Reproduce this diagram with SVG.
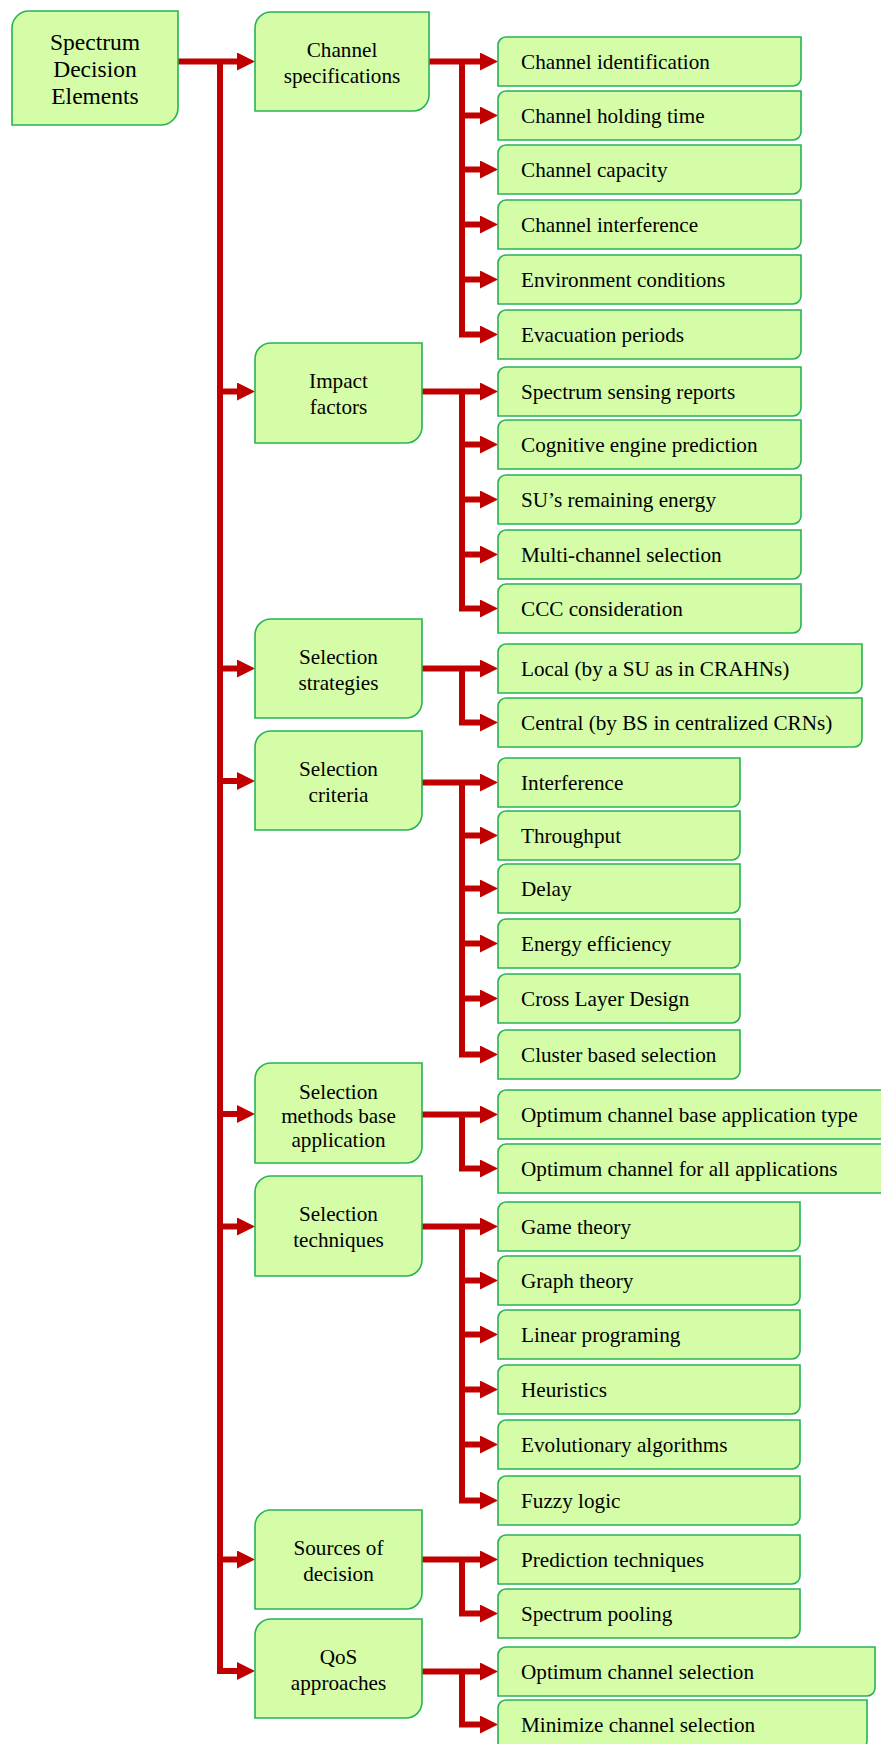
<svg xmlns="http://www.w3.org/2000/svg" width="881" height="1744" viewBox="0 0 881 1744">
<style>
.n{fill:#D5FDA8;stroke:#27B257;stroke-width:1.6}
.t{font-family:"Liberation Serif","Times New Roman",serif;fill:#000}
.r{font-size:23.5px;text-anchor:middle}
.m{font-size:21.2px;text-anchor:middle}
.l{font-size:21.2px}
.c{fill:none;stroke:#C00000;stroke-width:6;stroke-linejoin:miter}
.a{marker-end:url(#ah)}
</style>
<defs>
<marker id="ah" markerUnits="userSpaceOnUse" viewBox="0 0 18 18" markerWidth="18" markerHeight="18" refX="6" refY="9" orient="auto">
<polygon points="0,0 18,9 0,18" fill="#C00000"/>
</marker>
</defs>
<rect width="881" height="1744" fill="#fff"/>
<g id="connectors">
<path class="c a" d="M178 61.5 H243"/>
<path class="c a" d="M220 61.5 V1671 H243"/>
<path class="c a" d="M220 391.5 H243"/>
<path class="c a" d="M220 668.5 H243"/>
<path class="c a" d="M220 781 H243"/>
<path class="c a" d="M220 1114 H243"/>
<path class="c a" d="M220 1226.5 H243"/>
<path class="c a" d="M220 1559.5 H243"/>
<path class="c a" d="M429 61.5 H486"/>
<path class="c a" d="M462 61.5 V334.5 H486"/>
<path class="c a" d="M462 115.5 H486"/>
<path class="c a" d="M462 169.5 H486"/>
<path class="c a" d="M462 224.5 H486"/>
<path class="c a" d="M462 279.5 H486"/>
<path class="c a" d="M422 391.5 H486"/>
<path class="c a" d="M462 391.5 V608.5 H486"/>
<path class="c a" d="M462 444.5 H486"/>
<path class="c a" d="M462 499.5 H486"/>
<path class="c a" d="M462 554.5 H486"/>
<path class="c a" d="M422 668.5 H486"/>
<path class="c a" d="M462 668.5 V722.5 H486"/>
<path class="c a" d="M422 782.5 H486"/>
<path class="c a" d="M462 782.5 V1054.5 H486"/>
<path class="c a" d="M462 835.5 H486"/>
<path class="c a" d="M462 888.5 H486"/>
<path class="c a" d="M462 943.5 H486"/>
<path class="c a" d="M462 998.5 H486"/>
<path class="c a" d="M422 1114.5 H486"/>
<path class="c a" d="M462 1114.5 V1168.5 H486"/>
<path class="c a" d="M422 1226.5 H486"/>
<path class="c a" d="M462 1226.5 V1500.5 H486"/>
<path class="c a" d="M462 1280.5 H486"/>
<path class="c a" d="M462 1334.5 H486"/>
<path class="c a" d="M462 1389.5 H486"/>
<path class="c a" d="M462 1444.5 H486"/>
<path class="c a" d="M422 1559.5 H486"/>
<path class="c a" d="M462 1559.5 V1613.5 H486"/>
<path class="c a" d="M422 1671.5 H486"/>
<path class="c a" d="M462 1671.5 V1724.5 H486"/>
</g>
<g id="root">
<path class="n" d="M29 11 H178 V108 A17 17 0 0 1 161 125 H12 V28 A17 17 0 0 1 29 11 Z"/>
<text class="t r" x="95" y="50">Spectrum</text>
<text class="t r" x="95" y="77">Decision</text>
<text class="t r" x="95" y="104">Elements</text>
</g>
<g id="channel-specifications">
<path class="n" d="M271 12 H429 V95 A16 16 0 0 1 413 111 H255 V28 A16 16 0 0 1 271 12 Z"/>
<text class="t m" x="342" y="56.5">Channel</text>
<text class="t m" x="342" y="82.5">specifications</text>
</g>
<g id="impact-factors">
<path class="n" d="M271 343 H422 V427 A16 16 0 0 1 406 443 H255 V359 A16 16 0 0 1 271 343 Z"/>
<text class="t m" x="338.5" y="388">Impact</text>
<text class="t m" x="338.5" y="414">factors</text>
</g>
<g id="selection-strategies">
<path class="n" d="M271 619 H422 V702 A16 16 0 0 1 406 718 H255 V635 A16 16 0 0 1 271 619 Z"/>
<text class="t m" x="338.5" y="663.5">Selection</text>
<text class="t m" x="338.5" y="689.5">strategies</text>
</g>
<g id="selection-criteria">
<path class="n" d="M271 731 H422 V814 A16 16 0 0 1 406 830 H255 V747 A16 16 0 0 1 271 731 Z"/>
<text class="t m" x="338.5" y="775.5">Selection</text>
<text class="t m" x="338.5" y="801.5">criteria</text>
</g>
<g id="selection-methods">
<path class="n" d="M271 1063 H422 V1147 A16 16 0 0 1 406 1163 H255 V1079 A16 16 0 0 1 271 1063 Z"/>
<text class="t m" x="338.5" y="1099">Selection</text>
<text class="t m" x="338.5" y="1123">methods base</text>
<text class="t m" x="338.5" y="1147">application</text>
</g>
<g id="selection-techniques">
<path class="n" d="M271 1176 H422 V1260 A16 16 0 0 1 406 1276 H255 V1192 A16 16 0 0 1 271 1176 Z"/>
<text class="t m" x="338.5" y="1221">Selection</text>
<text class="t m" x="338.5" y="1247">techniques</text>
</g>
<g id="sources-of-decision">
<path class="n" d="M271 1510 H422 V1593 A16 16 0 0 1 406 1609 H255 V1526 A16 16 0 0 1 271 1510 Z"/>
<text class="t m" x="338.5" y="1554.5">Sources of</text>
<text class="t m" x="338.5" y="1580.5">decision</text>
</g>
<g id="qos-approaches">
<path class="n" d="M271 1619 H422 V1702 A16 16 0 0 1 406 1718 H255 V1635 A16 16 0 0 1 271 1619 Z"/>
<text class="t m" x="338.5" y="1663.5">QoS</text>
<text class="t m" x="338.5" y="1689.5">approaches</text>
</g>
<g id="leaf-channel-identification"><path class="n" d="M506 37 H801 V78 A8 8 0 0 1 793 86 H498 V45 A8 8 0 0 1 506 37 Z"/><text class="t l" x="521" y="68.5">Channel identification</text></g>
<g id="leaf-channel-holding-time"><path class="n" d="M506 91 H801 V132 A8 8 0 0 1 793 140 H498 V99 A8 8 0 0 1 506 91 Z"/><text class="t l" x="521" y="122.5">Channel holding time</text></g>
<g id="leaf-channel-capacity"><path class="n" d="M506 145 H801 V186 A8 8 0 0 1 793 194 H498 V153 A8 8 0 0 1 506 145 Z"/><text class="t l" x="521" y="176.5">Channel capacity</text></g>
<g id="leaf-channel-interference"><path class="n" d="M506 200 H801 V241 A8 8 0 0 1 793 249 H498 V208 A8 8 0 0 1 506 200 Z"/><text class="t l" x="521" y="231.5">Channel interference</text></g>
<g id="leaf-environment-conditions"><path class="n" d="M506 255 H801 V296 A8 8 0 0 1 793 304 H498 V263 A8 8 0 0 1 506 255 Z"/><text class="t l" x="521" y="286.5">Environment conditions</text></g>
<g id="leaf-evacuation-periods"><path class="n" d="M506 310 H801 V351 A8 8 0 0 1 793 359 H498 V318 A8 8 0 0 1 506 310 Z"/><text class="t l" x="521" y="341.5">Evacuation periods</text></g>
<g id="leaf-spectrum-sensing-reports"><path class="n" d="M506 367 H801 V408 A8 8 0 0 1 793 416 H498 V375 A8 8 0 0 1 506 367 Z"/><text class="t l" x="521" y="398.5">Spectrum sensing reports</text></g>
<g id="leaf-cognitive-engine-prediction"><path class="n" d="M506 420 H801 V461 A8 8 0 0 1 793 469 H498 V428 A8 8 0 0 1 506 420 Z"/><text class="t l" x="521" y="451.5">Cognitive engine prediction</text></g>
<g id="leaf-su-remaining-energy"><path class="n" d="M506 475 H801 V516 A8 8 0 0 1 793 524 H498 V483 A8 8 0 0 1 506 475 Z"/><text class="t l" x="521" y="506.5">SU’s remaining energy</text></g>
<g id="leaf-multi-channel-selection"><path class="n" d="M506 530 H801 V571 A8 8 0 0 1 793 579 H498 V538 A8 8 0 0 1 506 530 Z"/><text class="t l" x="521" y="561.5">Multi-channel selection</text></g>
<g id="leaf-ccc-consideration"><path class="n" d="M506 584 H801 V625 A8 8 0 0 1 793 633 H498 V592 A8 8 0 0 1 506 584 Z"/><text class="t l" x="521" y="615.5">CCC consideration</text></g>
<g id="leaf-local"><path class="n" d="M506 644 H862 V685 A8 8 0 0 1 854 693 H498 V652 A8 8 0 0 1 506 644 Z"/><text class="t l" x="521" y="675.5">Local (by a SU as in CRAHNs)</text></g>
<g id="leaf-central"><path class="n" d="M506 698 H862 V739 A8 8 0 0 1 854 747 H498 V706 A8 8 0 0 1 506 698 Z"/><text class="t l" x="521" y="729.5">Central (by BS in centralized CRNs)</text></g>
<g id="leaf-interference"><path class="n" d="M506 758 H740 V799 A8 8 0 0 1 732 807 H498 V766 A8 8 0 0 1 506 758 Z"/><text class="t l" x="521" y="789.5">Interference</text></g>
<g id="leaf-throughput"><path class="n" d="M506 811 H740 V852 A8 8 0 0 1 732 860 H498 V819 A8 8 0 0 1 506 811 Z"/><text class="t l" x="521" y="842.5">Throughput</text></g>
<g id="leaf-delay"><path class="n" d="M506 864 H740 V905 A8 8 0 0 1 732 913 H498 V872 A8 8 0 0 1 506 864 Z"/><text class="t l" x="521" y="895.5">Delay</text></g>
<g id="leaf-energy-efficiency"><path class="n" d="M506 919 H740 V960 A8 8 0 0 1 732 968 H498 V927 A8 8 0 0 1 506 919 Z"/><text class="t l" x="521" y="950.5">Energy efficiency</text></g>
<g id="leaf-cross-layer-design"><path class="n" d="M506 974 H740 V1015 A8 8 0 0 1 732 1023 H498 V982 A8 8 0 0 1 506 974 Z"/><text class="t l" x="521" y="1005.5">Cross Layer Design</text></g>
<g id="leaf-cluster-based-selection"><path class="n" d="M506 1030 H740 V1071 A8 8 0 0 1 732 1079 H498 V1038 A8 8 0 0 1 506 1030 Z"/><text class="t l" x="521" y="1061.5">Cluster based selection</text></g>
<g id="leaf-optimum-base-app"><path class="n" d="M506 1090 H890 V1131 A8 8 0 0 1 882 1139 H498 V1098 A8 8 0 0 1 506 1090 Z"/><text class="t l" x="521" y="1121.5">Optimum channel base application type</text></g>
<g id="leaf-optimum-all-apps"><path class="n" d="M506 1144 H890 V1185 A8 8 0 0 1 882 1193 H498 V1152 A8 8 0 0 1 506 1144 Z"/><text class="t l" x="521" y="1175.5">Optimum channel for all applications</text></g>
<g id="leaf-game-theory"><path class="n" d="M506 1202 H800 V1243 A8 8 0 0 1 792 1251 H498 V1210 A8 8 0 0 1 506 1202 Z"/><text class="t l" x="521" y="1233.5">Game theory</text></g>
<g id="leaf-graph-theory"><path class="n" d="M506 1256 H800 V1297 A8 8 0 0 1 792 1305 H498 V1264 A8 8 0 0 1 506 1256 Z"/><text class="t l" x="521" y="1287.5">Graph theory</text></g>
<g id="leaf-linear-programing"><path class="n" d="M506 1310 H800 V1351 A8 8 0 0 1 792 1359 H498 V1318 A8 8 0 0 1 506 1310 Z"/><text class="t l" x="521" y="1341.5">Linear programing</text></g>
<g id="leaf-heuristics"><path class="n" d="M506 1365 H800 V1406 A8 8 0 0 1 792 1414 H498 V1373 A8 8 0 0 1 506 1365 Z"/><text class="t l" x="521" y="1396.5">Heuristics</text></g>
<g id="leaf-evolutionary-algorithms"><path class="n" d="M506 1420 H800 V1461 A8 8 0 0 1 792 1469 H498 V1428 A8 8 0 0 1 506 1420 Z"/><text class="t l" x="521" y="1451.5">Evolutionary algorithms</text></g>
<g id="leaf-fuzzy-logic"><path class="n" d="M506 1476 H800 V1517 A8 8 0 0 1 792 1525 H498 V1484 A8 8 0 0 1 506 1476 Z"/><text class="t l" x="521" y="1507.5">Fuzzy logic</text></g>
<g id="leaf-prediction-techniques"><path class="n" d="M506 1535 H800 V1576 A8 8 0 0 1 792 1584 H498 V1543 A8 8 0 0 1 506 1535 Z"/><text class="t l" x="521" y="1566.5">Prediction techniques</text></g>
<g id="leaf-spectrum-pooling"><path class="n" d="M506 1589 H800 V1630 A8 8 0 0 1 792 1638 H498 V1597 A8 8 0 0 1 506 1589 Z"/><text class="t l" x="521" y="1620.5">Spectrum pooling</text></g>
<g id="leaf-optimum-channel-selection"><path class="n" d="M506 1647 H875 V1688 A8 8 0 0 1 867 1696 H498 V1655 A8 8 0 0 1 506 1647 Z"/><text class="t l" x="521" y="1678.5">Optimum channel selection</text></g>
<g id="leaf-minimize-channel-selection"><path class="n" d="M506 1700 H867 V1741 A8 8 0 0 1 859 1749 H498 V1708 A8 8 0 0 1 506 1700 Z"/><text class="t l" x="521" y="1731.5">Minimize channel selection</text></g>
</svg>
